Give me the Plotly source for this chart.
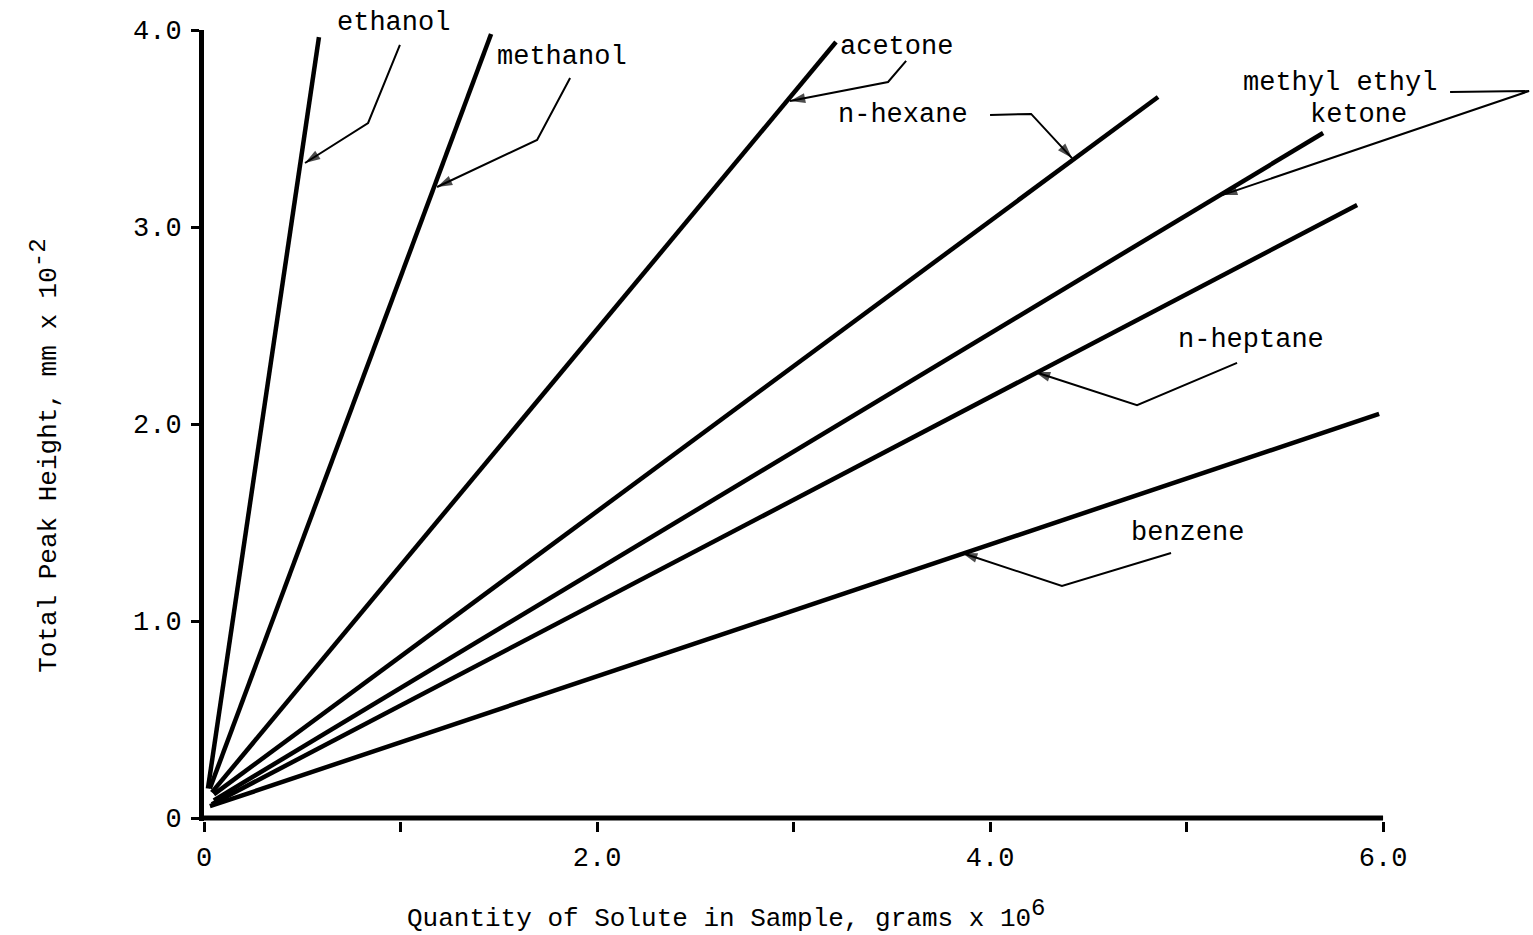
import plotly.graph_objects as go

# Calibration lines: total peak height vs. quantity of solute
compounds = ["ethanol", "methanol", "acetone", "n-hexane",
             "methyl ethyl ketone", "n-heptane", "benzene"]
start_x = [0.02, 0.03, 0.04, 0.05, 0.05, 0.04, 0.03]
start_y = [0.15, 0.15, 0.13, 0.12, 0.09, 0.07, 0.06]
end_x = [0.585, 1.461, 3.216, 4.855, 5.695, 5.868, 5.980]
end_y = [3.964, 3.980, 3.939, 3.660, 3.477, 3.112, 2.051]

# Label text pieces and their positions
label_text = ["ethanol", "methanol", "acetone", "n-hexane",
              "methyl ethyl", "ketone", "n-heptane", "benzene"]
label_x = [0.962, 1.822, 3.522, 3.557, 5.781, 5.873, 5.328, 5.003]
label_y = [4.035, 3.863, 3.914, 3.569, 3.731, 3.569, 2.426, 1.447]

# Leader lines: start near label -> bend -> arrow tip on the line
lead_start_x = [0.997, 1.863, 3.573, 4.000, 6.341, 5.257, 4.921]
lead_start_y = [3.924, 3.756, 3.843, 3.569, 3.685, 2.310, 1.345]
lead_bend_x = [0.835, 1.695, 3.481, 4.209, 6.743, 4.748, 4.366]
lead_bend_y = [3.528, 3.442, 3.736, 3.574, 3.690, 2.096, 1.178]
lead_tip_x = [0.514, 1.186, 2.982, 4.417, 5.181, 4.229, 3.858]
lead_tip_y = [3.325, 3.203, 3.640, 3.350, 3.162, 2.264, 1.345]

x_tick_vals = [0, 2, 4, 6]
x_tick_text = ["0", "2.0", "4.0", "6.0"]
x_minor_vals = [1, 3, 5]
y_tick_vals = [0, 1, 2, 3, 4]
y_tick_text = ["0", "1.0", "2.0", "3.0", "4.0"]

X_RANGE = [0, 6.763]
Y_RANGE = [-0.015, 4.0]
FONT = "Liberation Mono"
FSIZE = 27


def to_paper(v, rng):
    return (v - rng[0]) / (rng[1] - rng[0])


fig = go.Figure()

for name, x0, y0, x1, y1 in zip(compounds, start_x, start_y, end_x, end_y):
    fig.add_trace(go.Scatter(x=[x0, x1], y=[y0, y1], mode="lines", name=name,
                             line=dict(color="black", width=4.5),
                             showlegend=False, hoverinfo="skip"))

# leader polylines with an arrowhead at the tip
for sx, sy, bx, by, tx, ty in zip(lead_start_x, lead_start_y, lead_bend_x,
                                  lead_bend_y, lead_tip_x, lead_tip_y):
    fig.add_trace(go.Scatter(
        x=[sx, bx, tx], y=[sy, by, ty], mode="lines+markers",
        line=dict(color="black", width=2),
        marker=dict(symbol="arrow", angleref="previous", size=[0, 0, 16],
                    color="black", line=dict(width=0)),
        showlegend=False, hoverinfo="skip", cliponaxis=False))

annotations = []
for t, x, y in zip(label_text, label_x, label_y):
    annotations.append(dict(x=to_paper(x, X_RANGE), y=to_paper(y, Y_RANGE),
                            xref="paper", yref="paper", text=t,
                            showarrow=False, xanchor="center", yanchor="middle",
                            font=dict(family=FONT, size=FSIZE, color="black")))

# axis titles
annotations.append(dict(x=0.3935, y=-0.118, xref="paper", yref="paper",
                        text="Quantity of Solute in Sample, grams x 10"
                             "<sup><span style='font-size:24px'>6</span></sup>",
                        showarrow=False, xanchor="center", yanchor="middle",
                        font=dict(family=FONT, size=26, color="black")))
annotations.append(dict(x=-0.12, y=0.461, xref="paper", yref="paper",
                        text="Total Peak Height, mm x 10"
                             "<sup><span style='font-size:24px'>-2</span></sup>",
                        textangle=-90, showarrow=False,
                        xanchor="center", yanchor="middle",
                        font=dict(family=FONT, size=26, color="black")))

# x axis baseline from 0 to 6
shapes = [dict(type="line", xref="x", yref="y", x0=0, x1=6.0, y0=0, y1=0,
               line=dict(color="black", width=5))]

fig.update_layout(
    width=1533, height=935,
    margin=dict(l=204, r=0, t=30, b=114),
    plot_bgcolor="white", paper_bgcolor="white",
    annotations=annotations, shapes=shapes,
    font=dict(family=FONT, size=FSIZE, color="black"),
    xaxis=dict(range=X_RANGE, showgrid=False, zeroline=False, showline=False,
               tickvals=x_tick_vals, ticktext=x_tick_text,
               ticks="outside", ticklen=10, tickwidth=3, tickcolor="black",
               minor=dict(tickvals=x_minor_vals, ticks="outside", ticklen=10,
                          tickwidth=3, tickcolor="black"),
               ticklabelstandoff=2),
    yaxis=dict(range=Y_RANGE, showgrid=False, zeroline=False,
               showline=True, linewidth=5, linecolor="black",
               tickvals=y_tick_vals, ticktext=y_tick_text,
               ticks="outside", ticklen=8, tickwidth=3, tickcolor="black",
               ticklabelstandoff=4),
)

fig.write_html("out.html")
